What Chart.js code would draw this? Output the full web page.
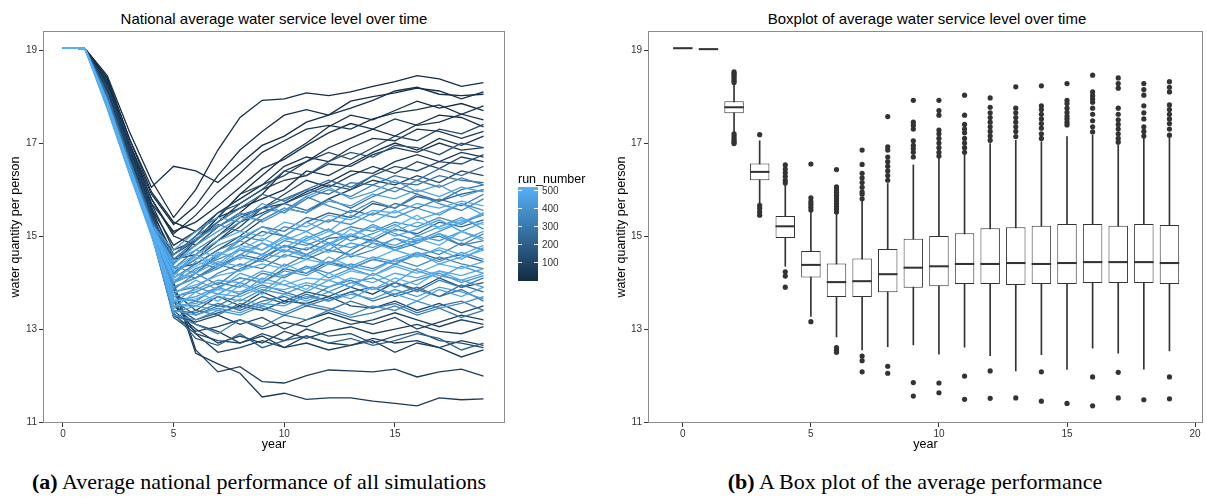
<!DOCTYPE html>
<html>
<head>
<meta charset="utf-8">
<script src="https://cdn.jsdelivr.net/npm/chart.js@4.4.1/dist/chart.umd.min.js"></script>
<style>
  body { margin: 0; background: #fff; }
  #page { position: relative; width: 1207px; height: 503px; overflow: hidden; font-family: "Liberation Sans", Arial, sans-serif; }
  canvas { position: absolute; top: 0; }
  .ptitle { position: absolute; top: 10.5px; height: 15px; line-height: 15px; font-size: 15px; text-align: center; color: #000; white-space: nowrap; }
  .cap { position: absolute; top: 471px; width: 600px; line-height: 22px; font-size: 22px; text-align: center; font-family: "Liberation Serif", "DejaVu Serif", serif; color: #000; white-space: nowrap; }
  #legTitle { position: absolute; left: 518px; top: 172px; font-size: 12.5px; color: #000; white-space: nowrap; }
  #legBar { position: absolute; left: 518px; top: 187px; width: 20px; height: 94px; background: linear-gradient(to bottom, #56B1F7, #132B43); }
  .legTick { position: absolute; height: 1px; width: 4px; background: #fff; }
  .legLab { position: absolute; left: 542px; font-size: 10px; line-height: 10px; color: #333; }
</style>
</head>
<body>
<div id="page">
  <div class="ptitle" style="left:43px; width:462px;">National average water service level over time</div>
  <div class="ptitle" style="left:648px; width:558px;">Boxplot of average water service level over time</div>
  <canvas id="lineChart" width="600" height="453" style="left:0;"></canvas>
  <canvas id="boxChart" width="607" height="453" style="left:600px;"></canvas>
  <div id="legTitle">run_number</div>
  <div id="legBar"></div>
  <div id="legend"></div>
  <div class="cap" style="left:-41px;"><b>(a)</b> Average national performance of all simulations</div>
  <div class="cap" style="left:615px;"><b>(b)</b> A Box plot of the average performance</div>
</div>
<script>
// ---- data: left panel (a selection of simulation runs) ----
var years = [0, 1, 2, 3, 4, 5, 6, 7, 8, 9, 10, 11, 12, 13, 14, 15, 16, 17, 18, 19];
var xTicksA = [0, 5, 10, 15];
var xTicksB = [0, 5, 10, 15, 20];
var yTicks = [11, 13, 15, 17, 19];
var legendTicks = [100, 200, 300, 400, 500];

var runNumbers = [5, 8, 12, 16, 20, 24, 28, 35, 42, 46, 50, 58, 64, 70, 74, 78, 82, 85, 92, 96, 100, 108, 115,
    130, 145, 160, 175, 190, 205, 220, 235, 250,
    258, 265, 272, 280, 288, 295, 302, 310, 318, 325, 333, 340, 348, 355, 362, 370, 377, 385, 392,
    400, 405, 410, 415, 420, 425, 430, 435, 440, 445, 450, 455, 460, 465, 470, 475, 480, 485, 490, 495, 500];

var runValues = [
    [19.05, 19.03, 18.45, 17.25, 16.2, 15.4, 16.0, 16.85, 17.55, 17.92, 17.95, 18.08, 18.02, 18.1, 18.22, 18.32, 18.45, 18.38, 18.22, 18.3],
    [19.05, 19.03, 18.4, 17.1, 15.95, 15.3, 15.1, 15.4, 15.9, 16.3, 16.7, 17.0, 17.35, 17.6, 17.5, 17.7, 17.9, 17.75, 17.85, 17.7],
    [19.05, 19.03, 18.4, 17.1, 16.05, 16.5, 16.4, 16.15, 16.55, 16.95, 17.15, 17.45, 17.6, 17.9, 18.0, 18.08, 18.18, 18.12, 17.95, 18.1],
    [19.05, 19.03, 18.3, 17.0, 15.8, 15.0, 14.8, 15.2, 15.5, 15.9, 16.4, 16.6, 16.9, 17.1, 17.3, 17.15, 17.4, 17.6, 17.55, 17.35],
    [19.05, 19.03, 18.35, 17.0, 15.9, 15.25, 15.65, 16.3, 16.85, 17.25, 17.6, 17.72, 17.6, 17.75, 17.92, 18.12, 18.2, 18.05, 18.02, 18.05],
    [19.05, 19.03, 18.25, 16.9, 15.7, 14.7, 14.9, 15.4, 15.6, 15.8, 16.0, 16.4, 16.3, 16.55, 16.8, 17.0, 16.85, 17.1, 16.95, 17.15],
    [19.05, 19.03, 18.3, 16.95, 15.8, 15.05, 15.45, 15.95, 16.35, 16.8, 17.05, 17.3, 17.38, 17.3, 17.52, 17.65, 17.72, 17.82, 17.62, 17.8],
    [19.05, 19.03, 18.25, 16.9, 15.7, 15.1, 15.3, 15.65, 16.05, 16.45, 16.65, 16.95, 17.22, 17.42, 17.3, 17.52, 17.38, 17.45, 17.62, 17.5],
    [19.05, 19.03, 18.2, 16.85, 15.6, 14.8, 15.1, 15.5, 15.8, 16.1, 16.5, 16.7, 16.6, 16.9, 17.1, 17.05, 17.3, 17.25, 17.1, 17.25],
    [19.05, 19.03, 18.2, 16.85, 15.6, 14.5, 14.6, 15.0, 15.4, 15.6, 15.7, 15.95, 16.15, 16.4, 16.35, 16.6, 16.75, 16.6, 16.8, 16.7],
    [19.05, 19.03, 18.15, 16.8, 15.55, 14.6, 14.9, 15.3, 15.7, 16.0, 16.2, 16.3, 16.55, 16.5, 16.75, 16.9, 16.8, 17.0, 16.85, 16.9],
    [19.05, 19.03, 18.2, 16.9, 15.55, 13.9, 12.48, 12.25, 12.05, 11.54, 11.62, 11.49, 11.52, 11.52, 11.45, 11.4, 11.35, 11.52, 11.48, 11.5],
    [19.05, 19.03, 18.25, 17.0, 15.65, 14.0, 12.55, 12.08, 12.19, 11.87, 11.84, 12.0, 12.12, 12.1, 12.08, 12.14, 11.97, 12.08, 12.14, 11.99],
    [19.05, 19.03, 18.1, 16.75, 15.4, 13.6, 12.9, 12.5, 12.6, 12.75, 12.6, 12.85, 12.7, 12.65, 12.8, 12.7, 12.75, 12.6, 12.4, 12.55],
    [19.05, 19.03, 18.05, 16.7, 15.35, 13.5, 13.1, 12.95, 12.7, 12.85, 12.6, 12.7, 12.55, 12.65, 12.75, 12.5, 12.7, 12.6, 12.75, 12.65],
    [19.05, 19.03, 18.05, 16.7, 15.3, 13.4, 13.0, 12.7, 12.85, 12.7, 12.95, 12.8, 12.95, 13.05, 12.9, 13.0, 13.1, 12.95, 12.9, 13.05],
    [19.05, 19.03, 18.1, 16.75, 15.45, 14.3, 14.4, 14.7, 15.0, 15.35, 15.6, 15.5, 15.8, 16.0, 16.2, 16.1, 16.3, 16.15, 16.4, 16.3],
    [19.05, 19.03, 18.15, 16.8, 15.5, 14.2, 14.5, 14.9, 15.2, 15.6, 15.9, 16.2, 16.05, 16.3, 16.5, 16.35, 16.6, 16.45, 16.7, 16.6],
    [19.05, 19.03, 18.0, 16.6, 15.2, 13.3, 13.15, 13.3, 13.1, 13.25, 13.0, 13.2, 13.35, 13.2, 13.1, 13.25, 13.0, 13.15, 13.3, 13.2],
    [19.05, 19.03, 18.0, 16.6, 15.25, 13.3, 12.95, 13.05, 13.2, 13.0, 13.15, 13.05, 13.25, 13.1, 13.2, 13.35, 13.2, 13.05, 13.2, 13.1],
    [19.05, 19.03, 18.2, 16.85, 15.5, 14.4, 14.9, 15.4, 15.9, 16.1, 16.3, 16.6, 16.8, 16.65, 16.9, 17.15, 17.05, 17.3, 17.2, 17.4],
    [19.05, 19.03, 18.1, 16.7, 15.35, 13.8, 13.4, 13.7, 13.5, 13.8, 13.6, 13.55, 13.7, 13.5, 13.45, 13.6, 13.4, 13.55, 13.35, 13.5],
    [19.05, 19.03, 18.05, 16.65, 15.3, 13.25, 12.9, 12.75, 12.7, 12.9, 12.75, 13.0, 12.85, 12.9, 12.7, 12.85, 12.95, 12.75, 12.7, 12.6],
    [19.05, 19.03, 18.0, 16.6, 15.25, 14.2, 14.6, 14.9, 15.3, 15.5, 15.7, 15.9, 16.1, 16.0, 16.3, 16.5, 16.4, 16.6, 16.55, 16.75],
    [19.05, 19.03, 17.95, 16.55, 15.2, 13.5, 13.2, 13.35, 13.5, 13.4, 13.6, 13.8, 13.7, 13.9, 13.75, 14.0, 13.85, 14.1, 13.9, 14.0],
    [19.05, 19.03, 18.05, 16.65, 15.4, 14.6, 15.0, 15.5, 15.7, 16.0, 16.4, 16.3, 16.6, 16.8, 16.7, 16.95, 16.9, 16.75, 17.0, 16.9],
    [19.05, 19.03, 17.9, 16.5, 15.15, 13.7, 13.6, 13.9, 14.1, 14.0, 14.3, 14.2, 14.45, 14.3, 14.5, 14.4, 14.65, 14.5, 14.6, 14.45],
    [19.05, 19.03, 18.0, 16.6, 15.3, 14.0, 14.2, 14.6, 14.8, 15.1, 15.0, 15.3, 15.5, 15.4, 15.7, 15.6, 15.85, 15.75, 15.9, 16.0],
    [19.05, 19.03, 17.85, 16.45, 15.1, 13.35, 12.8, 12.65, 12.9, 12.6, 12.75, 12.85, 12.7, 12.8, 12.65, 12.75, 12.9, 12.8, 12.55, 12.7],
    [19.05, 19.03, 17.95, 16.55, 15.25, 13.9, 14.1, 14.35, 14.6, 14.5, 14.8, 14.7, 14.95, 15.0, 14.9, 15.15, 15.05, 15.3, 15.2, 15.35],
    [19.05, 19.03, 17.9, 16.5, 15.15, 13.6, 13.3, 13.5, 13.45, 13.7, 13.55, 13.75, 13.6, 13.8, 13.9, 13.7, 13.85, 13.7, 13.95, 13.8],
    [19.05, 19.03, 18.05, 16.65, 15.35, 14.5, 14.8, 15.2, 15.45, 15.6, 15.8, 16.0, 15.9, 16.15, 16.1, 16.3, 16.2, 16.45, 16.3, 16.5],
    [19.05, 19.03, 17.9, 16.5, 15.2, 14.6, 15.0, 15.3, 15.6, 15.9, 15.75, 16.0, 16.2, 16.05, 16.3, 16.15, 16.1, 16.3, 16.2, 16.15],
    [19.05, 19.03, 17.85, 16.45, 15.1, 13.4, 13.35, 13.55, 13.4, 13.6, 13.7, 13.5, 13.65, 13.8, 13.6, 13.75, 13.9, 13.7, 13.85, 13.6],
    [19.05, 19.03, 17.85, 16.45, 15.1, 13.25, 13.4, 13.3, 13.55, 13.45, 13.3, 13.5, 13.4, 13.6, 13.45, 13.55, 13.35, 13.5, 13.6, 13.4],
    [19.05, 19.03, 17.95, 16.55, 15.25, 14.1, 14.4, 14.7, 14.9, 15.2, 15.1, 15.4, 15.3, 15.55, 15.45, 15.7, 15.6, 15.8, 15.65, 15.9],
    [19.05, 19.03, 17.9, 16.5, 15.2, 14.5, 14.9, 15.25, 15.1, 15.45, 15.7, 15.55, 15.8, 15.6, 15.85, 16.05, 15.9, 15.75, 16.0, 16.1],
    [19.05, 19.03, 17.9, 16.5, 15.2, 13.8, 13.9, 14.2, 14.4, 14.3, 14.6, 14.5, 14.7, 14.6, 14.85, 14.75, 14.9, 15.0, 14.8, 15.05],
    [19.05, 19.03, 17.8, 16.4, 15.05, 13.45, 13.6, 13.5, 13.75, 13.95, 13.8, 13.65, 13.9, 14.05, 13.85, 14.0, 13.8, 14.05, 13.9, 14.1],
    [19.05, 19.03, 17.8, 16.4, 15.05, 13.3, 13.1, 12.9, 13.2, 13.05, 13.3, 13.2, 13.4, 13.25, 13.35, 13.5, 13.3, 13.45, 13.25, 13.4],
    [19.05, 19.03, 17.9, 16.5, 15.2, 14.2, 14.1, 14.4, 14.25, 14.55, 14.8, 14.6, 14.4, 14.7, 14.95, 14.7, 14.85, 15.05, 14.8, 14.9],
    [19.05, 19.03, 17.95, 16.6, 15.3, 14.3, 14.7, 15.0, 15.3, 15.6, 15.5, 15.8, 16.0, 15.85, 16.1, 15.95, 16.2, 16.05, 16.25, 16.1],
    [19.05, 19.03, 17.85, 16.45, 15.15, 13.85, 14.2, 13.95, 14.3, 14.5, 14.35, 14.6, 14.85, 14.55, 14.7, 14.95, 14.75, 14.6, 14.85, 14.7],
    [19.05, 19.03, 17.85, 16.45, 15.15, 13.7, 13.8, 14.0, 13.9, 14.2, 14.1, 14.35, 14.2, 14.4, 14.3, 14.5, 14.35, 14.55, 14.4, 14.3],
    [19.05, 19.03, 17.9, 16.5, 15.25, 14.6, 14.95, 15.2, 15.5, 15.3, 15.55, 15.85, 15.65, 15.5, 15.75, 15.6, 15.9, 15.7, 15.55, 15.8],
    [19.05, 19.03, 17.9, 16.5, 15.2, 14.0, 14.3, 14.5, 14.7, 14.6, 14.9, 14.8, 15.0, 15.2, 15.1, 15.3, 15.2, 15.4, 15.25, 15.5],
    [19.05, 19.03, 17.8, 16.4, 15.05, 13.3, 13.2, 13.4, 13.3, 13.5, 13.35, 13.55, 13.45, 13.3, 13.5, 13.4, 13.6, 13.45, 13.55, 13.7],
    [19.05, 19.03, 17.8, 16.4, 15.1, 13.5, 13.5, 13.7, 13.6, 13.85, 13.75, 13.95, 13.8, 14.0, 14.1, 13.9, 14.05, 14.2, 14.0, 14.15],
    [19.05, 19.03, 17.85, 16.45, 15.15, 14.0, 14.45, 14.3, 14.6, 14.85, 14.65, 14.95, 15.15, 14.9, 15.05, 15.25, 15.0, 15.2, 15.4, 15.15],
    [19.05, 19.03, 17.9, 16.5, 15.2, 14.2, 14.5, 14.8, 15.0, 14.9, 15.2, 15.1, 15.35, 15.25, 15.5, 15.4, 15.6, 15.45, 15.7, 15.55],
    [19.05, 19.03, 17.9, 16.5, 15.2, 14.35, 14.2, 14.55, 14.9, 14.7, 15.0, 14.85, 14.7, 15.0, 15.25, 15.05, 14.9, 15.1, 15.3, 15.45],
    [19.05, 19.03, 17.75, 16.35, 15.05, 13.6, 13.7, 13.9, 14.1, 14.0, 14.25, 14.15, 14.4, 14.3, 14.5, 14.4, 14.6, 14.45, 14.65, 14.5],
    [19.05, 19.03, 17.8, 16.4, 15.1, 13.55, 13.9, 13.75, 14.0, 13.8, 14.15, 14.35, 14.1, 14.3, 14.15, 14.4, 14.25, 14.1, 14.35, 14.2],
    [19.05, 19.03, 17.85, 16.45, 15.15, 13.9, 14.1, 14.3, 14.55, 14.45, 14.7, 14.6, 14.85, 14.75, 14.9, 14.8, 15.0, 14.9, 15.1, 14.95],
    [19.05, 19.03, 17.9, 16.5, 15.25, 14.7, 15.1, 15.4, 15.3, 15.7, 15.5, 15.85, 16.05, 15.8, 15.95, 16.2, 15.95, 16.1, 15.85, 16.0],
    [19.05, 19.03, 17.8, 16.4, 15.1, 13.4, 13.3, 13.45, 13.35, 13.55, 13.5, 13.7, 13.6, 13.75, 13.65, 13.85, 13.7, 13.9, 13.8, 13.65],
    [19.05, 19.03, 17.85, 16.45, 15.1, 13.65, 13.6, 13.9, 13.75, 14.1, 13.95, 13.8, 14.05, 13.9, 14.2, 14.0, 14.3, 14.15, 14.05, 13.9],
    [19.05, 19.03, 17.9, 16.5, 15.25, 14.4, 14.8, 15.1, 15.4, 15.35, 15.6, 15.5, 15.75, 15.65, 15.9, 15.8, 16.0, 15.85, 16.05, 15.95],
    [19.05, 19.03, 17.85, 16.45, 15.15, 14.15, 14.6, 14.4, 14.75, 14.6, 14.9, 15.1, 14.85, 15.0, 15.2, 15.0, 15.15, 15.35, 15.1, 15.3],
    [19.05, 19.03, 17.8, 16.4, 15.1, 13.7, 13.85, 14.05, 14.0, 14.25, 14.15, 14.3, 14.45, 14.35, 14.55, 14.45, 14.6, 14.7, 14.5, 14.75],
    [19.05, 19.03, 17.8, 16.4, 15.1, 13.35, 13.5, 13.4, 13.65, 13.5, 13.75, 13.6, 13.8, 13.65, 13.9, 13.75, 13.6, 13.85, 13.7, 13.9],
    [19.05, 19.03, 17.85, 16.45, 15.15, 14.0, 14.2, 14.45, 14.35, 14.6, 14.55, 14.75, 14.65, 14.85, 14.75, 14.95, 14.85, 15.05, 14.9, 15.1],
    [19.05, 19.03, 17.9, 16.5, 15.2, 14.45, 14.7, 14.55, 14.95, 15.2, 15.0, 15.3, 15.1, 15.45, 15.3, 15.55, 15.35, 15.5, 15.7, 15.45],
    [19.05, 19.03, 17.75, 16.35, 15.0, 13.5, 13.55, 13.75, 13.7, 13.9, 13.85, 14.0, 13.9, 14.1, 14.0, 14.2, 14.1, 14.25, 14.15, 14.3],
    [19.05, 19.03, 17.8, 16.4, 15.05, 13.75, 14.05, 13.85, 14.2, 14.05, 14.4, 14.2, 14.55, 14.35, 14.25, 14.5, 14.65, 14.4, 14.55, 14.7],
    [19.05, 19.03, 17.9, 16.5, 15.2, 14.3, 14.6, 14.9, 15.1, 15.0, 15.3, 15.2, 15.45, 15.35, 15.55, 15.5, 15.7, 15.6, 15.75, 15.65],
    [19.05, 19.03, 17.85, 16.45, 15.15, 14.05, 14.25, 14.65, 14.5, 14.85, 14.7, 14.55, 14.8, 15.05, 14.85, 14.7, 14.95, 14.8, 15.1, 14.9],
    [19.05, 19.03, 17.8, 16.4, 15.1, 13.8, 13.95, 14.15, 14.25, 14.4, 14.3, 14.5, 14.4, 14.6, 14.5, 14.7, 14.55, 14.75, 14.6, 14.8],
    [19.05, 19.03, 17.8, 16.4, 15.1, 13.45, 13.8, 13.6, 13.95, 13.75, 14.05, 13.85, 14.2, 14.0, 13.85, 14.1, 13.95, 14.25, 14.05, 14.2],
    [19.05, 19.03, 17.85, 16.45, 15.15, 13.6, 13.65, 13.85, 13.8, 14.0, 13.95, 14.1, 14.05, 14.25, 14.15, 14.35, 14.2, 14.4, 14.3, 14.45],
    [19.05, 19.03, 17.85, 16.5, 15.2, 14.25, 14.55, 14.35, 14.7, 14.95, 14.75, 15.0, 14.8, 15.15, 14.95, 15.2, 15.45, 15.15, 15.3, 15.5],
    [19.05, 19.03, 17.85, 16.45, 15.2, 14.1, 14.35, 14.6, 14.8, 14.7, 14.95, 14.9, 15.1, 15.0, 15.2, 15.1, 15.3, 15.2, 15.35, 15.25]
];

// ---- data: right panel (box statistics per year) ----
var boxLow =    [19.04, 19.02, 17.24, 15.70, 14.35, 13.27, 12.83, 12.55, 12.62, 12.66, 12.46, 12.61, 12.43, 12.10, 12.45, 12.13, 12.59, 12.48, 12.14, 12.53];
var boxQ1 =     [19.04, 19.02, 17.64, 16.20, 14.96, 14.11, 13.69, 13.69, 13.79, 13.89, 13.92, 13.97, 13.97, 13.95, 13.97, 13.97, 13.99, 13.99, 13.99, 13.97];
var boxMedian = [19.04, 19.02, 17.77, 16.38, 15.21, 14.38, 14.01, 14.03, 14.18, 14.32, 14.35, 14.40, 14.40, 14.42, 14.40, 14.42, 14.44, 14.44, 14.44, 14.42];
var boxQ3 =     [19.04, 19.02, 17.90, 16.56, 15.43, 14.68, 14.41, 14.52, 14.72, 14.94, 15.00, 15.06, 15.17, 15.19, 15.22, 15.26, 15.26, 15.22, 15.26, 15.24];
var boxHigh =   [19.04, 19.02, 18.26, 17.05, 16.10, 15.52, 15.49, 15.77, 16.13, 16.53, 16.67, 16.74, 16.99, 17.06, 17.03, 17.14, 17.17, 16.96, 17.10, 17.14];
var outliers = [
    [],
    [],
    [18.30, 18.34, 18.38, 18.42, 18.46, 18.50, 18.53, 17.20, 17.15, 17.10, 17.06, 17.02, 16.99],
    [17.18, 15.66, 15.60, 15.52, 15.45],
    [16.14, 16.20, 16.28, 16.36, 16.44, 16.53, 14.23, 14.14, 13.90],
    [15.56, 15.62, 15.68, 15.74, 15.82, 16.55, 13.16],
    [15.52, 15.58, 15.64, 15.70, 15.76, 15.82, 15.88, 15.94, 16.00, 16.06, 16.43, 12.60, 12.54, 12.50],
    [15.80, 15.90, 15.95, 16.05, 16.15, 16.25, 16.35, 16.54, 16.85, 12.42, 12.32, 12.08],
    [16.20, 16.30, 16.40, 16.50, 16.60, 16.70, 16.85, 16.92, 17.57, 12.20, 12.05],
    [16.70, 16.80, 16.88, 16.95, 17.05, 17.30, 17.38, 17.45, 17.92, 11.85, 11.56],
    [16.72, 16.80, 16.90, 17.00, 17.10, 17.20, 17.28, 17.60, 17.70, 17.92, 11.84, 11.63],
    [16.80, 16.90, 17.00, 17.10, 17.22, 17.30, 17.40, 17.60, 18.03, 11.99, 11.49],
    [17.06, 17.15, 17.25, 17.35, 17.45, 17.55, 17.65, 17.77, 17.97, 12.10, 11.51],
    [17.14, 17.25, 17.35, 17.45, 17.55, 17.65, 17.75, 18.21, 11.52],
    [17.10, 17.20, 17.32, 17.42, 17.52, 17.62, 17.72, 17.80, 18.23, 12.08, 11.45],
    [17.39, 17.45, 17.52, 17.58, 17.66, 17.75, 17.85, 17.92, 18.28, 11.40],
    [17.24, 17.35, 17.48, 17.62, 17.75, 17.88, 17.95, 18.02, 18.10, 18.46, 11.97, 11.35],
    [17.02, 17.10, 17.20, 17.30, 17.40, 17.50, 17.62, 17.75, 18.18, 18.28, 18.40, 12.07, 11.52],
    [17.15, 17.25, 17.35, 17.52, 17.65, 17.80, 18.03, 18.15, 18.28, 11.48],
    [17.17, 17.30, 17.42, 17.52, 17.62, 17.72, 17.82, 18.10, 18.20, 18.32, 11.97, 11.50]
];

var FONT = "'Liberation Sans', Arial, sans-serif";
var INK = "#333333";
var LOW_RGB = [19, 43, 67];     // #132B43
var HIGH_RGB = [86, 177, 247];  // #56B1F7

function runColor(run) {
    var t = (run - 1) / 499;
    var c = LOW_RGB.map(function (lo, i) { return Math.round(lo + (HIGH_RGB[i] - lo) * t); });
    return "rgb(" + c.join(",") + ")";
}

var panelBorder = {
    id: "panelBorder",
    afterDraw: function (chart) {
        var a = chart.chartArea, ctx = chart.ctx;
        ctx.save();
        ctx.strokeStyle = "#8c8c8c";
        ctx.lineWidth = 1;
        ctx.strokeRect(a.left + 0.5, a.top + 0.5, a.right - a.left - 1, a.bottom - a.top - 1);
        ctx.restore();
    }
};

function axisX(min, max, ticks) {
    return {
        type: "linear", min: min, max: max, offset: false,
        afterFit: function (s) { s.height = 30; },
        afterBuildTicks: function (s) { s.ticks = ticks.map(function (v) { return { value: v }; }); },
        grid: { drawOnChartArea: false, tickLength: 4, color: INK, tickColor: INK, offset: false },
        border: { display: false },
        ticks: { color: INK, font: { size: 10, family: FONT }, padding: 1, maxRotation: 0 },
        title: { display: true, text: "year", color: "#000", font: { size: 12.5, family: FONT }, padding: { top: 0, bottom: 1 } }
    };
}

function axisY(width, titlePad) {
    return {
        type: "linear", min: 10.98, max: 19.41,
        afterFit: function (s) { s.width = width; },
        afterBuildTicks: function (s) { s.ticks = yTicks.map(function (v) { return { value: v }; }); },
        grid: { drawOnChartArea: false, tickLength: 4, color: INK, tickColor: INK },
        border: { display: false },
        ticks: { color: INK, font: { size: 10, family: FONT }, padding: 2 },
        title: { display: true, text: "water quantity per person", color: "#000", font: { size: 12.5, family: FONT }, padding: { top: titlePad, bottom: 0 } }
    };
}

// ---- left panel: lines per run ----
var lineSets = runNumbers.map(function (run, i) {
    return {
        label: "run " + run,
        data: years.map(function (yr, j) { return { x: yr, y: runValues[i][j] }; }),
        borderColor: runColor(run),
        borderWidth: 1.3,
        pointRadius: 0,
        tension: 0,
        order: -run
    };
});

new Chart(document.getElementById("lineChart"), {
    type: "line",
    data: { datasets: lineSets },
    options: {
        responsive: false,
        animation: false,
        events: [],
        layout: { padding: { top: 31, right: 95, left: 0, bottom: 0 } },
        plugins: { legend: { display: false }, tooltip: { enabled: false } },
        scales: { x: axisX(-0.9, 19.97, xTicksA), y: axisY(43, 8.5) }
    },
    plugins: [panelBorder]
});

// ---- right panel: boxplot built from floating bars + scatter ----
var outlierPoints = [];
outliers.forEach(function (list, i) {
    list.forEach(function (v) { outlierPoints.push({ x: years[i], y: v }); });
});

new Chart(document.getElementById("boxChart"), {
    type: "bar",
    data: {
        datasets: [
            {
                label: "whisker",
                data: years.map(function (yr, i) { return { x: yr, y: [boxLow[i], boxHigh[i]] }; }),
                backgroundColor: INK,
                grouped: false, categoryPercentage: 1, barPercentage: 1, maxBarThickness: 1,
                order: 4
            },
            {
                label: "box",
                data: years.map(function (yr, i) { return { x: yr, y: [boxQ1[i], boxQ3[i]] }; }),
                backgroundColor: "#ffffff", borderColor: INK, borderWidth: 1, borderSkipped: false,
                grouped: false, categoryPercentage: 1, barPercentage: 0.76,
                order: 3
            },
            {
                label: "median",
                data: years.map(function (yr, i) { return { x: yr, y: [boxMedian[i] - 0.022, boxMedian[i] + 0.022] }; }),
                backgroundColor: INK,
                grouped: false, categoryPercentage: 1, barPercentage: 0.76,
                order: 2
            },
            {
                type: "scatter",
                label: "outliers",
                data: outlierPoints,
                backgroundColor: INK, borderWidth: 0, pointRadius: 2.6,
                order: 1
            }
        ]
    },
    options: {
        responsive: false,
        animation: false,
        events: [],
        layout: { padding: { top: 31, right: 1, left: 0, bottom: 0 } },
        plugins: { legend: { display: false }, tooltip: { enabled: false } },
        scales: { x: axisX(-1.36, 20.31, xTicksB), y: axisY(48, 14) }
    },
    plugins: [panelBorder]
});

// ---- colour bar legend ----
var legend = document.getElementById("legend");
legendTicks.forEach(function (v) {
    var y = 190.8 + (500 - v) * 0.18;
    legend.insertAdjacentHTML("beforeend",
        '<div class="legTick" style="left:518px; top:' + (y - 0.5) + 'px;"></div>' +
        '<div class="legTick" style="left:534px; top:' + (y - 0.5) + 'px;"></div>' +
        '<div class="legLab" style="top:' + (y - 5) + 'px;">' + v + '</div>');
});
</script>
</body>
</html>
